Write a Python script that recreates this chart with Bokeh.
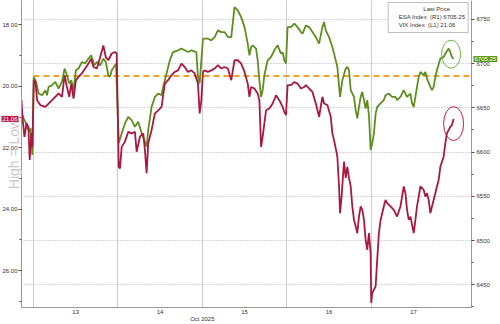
import math
from bokeh.plotting import figure
from bokeh.models import (Range1d, LinearAxis, SingleIntervalTicker, FixedTicker,
                          NumeralTickFormatter, Grid, Label, Legend, LegendItem)
from bokeh.embed import file_html
from bokeh.resources import INLINE

# ---------------- data (session-day time index: 0 = start of Oct 13 session) ----------------
es_t = [-0.141, -0.118, -0.094, -0.071, -0.047, -0.035, -0.024, -0.012,
        0.004, 0.032, 0.062, 0.103, 0.141, 0.161, 0.180, 0.220, 0.259, 0.298, 0.338, 0.369,
        0.397, 0.424, 0.448, 0.475, 0.503, 0.534, 0.574, 0.613, 0.652, 0.684, 0.722, 0.751,
        0.790, 0.828, 0.857, 0.887, 0.907, 0.927, 0.966, 0.978,
        1.010, 1.045, 1.084, 1.123, 1.163, 1.202, 1.241, 1.281, 1.320, 1.340, 1.359, 1.399,
        1.438, 1.477, 1.517, 1.536, 1.576, 1.615, 1.653, 1.712, 1.752, 1.791, 1.830, 1.870,
        1.929, 1.948, 1.968, 1.988,
        2.007, 2.066, 2.106, 2.145, 2.184, 2.224, 2.263, 2.302, 2.342, 2.381, 2.420, 2.460,
        2.499, 2.537, 2.557, 2.577, 2.596, 2.636, 2.655, 2.675, 2.695, 2.714, 2.734, 2.773,
        2.813, 2.852, 2.891, 2.931, 2.950, 2.970, 2.990,
        3.009, 3.049, 3.088, 3.127, 3.167, 3.186, 3.226, 3.264, 3.303, 3.343, 3.382, 3.421,
        3.441, 3.461, 3.500, 3.539, 3.559, 3.598, 3.630, 3.657, 3.697, 3.716, 3.736, 3.756,
        3.795, 3.815, 3.834, 3.854, 3.874, 3.893, 3.913, 3.933, 3.952, 3.972, 3.992,
        4.011, 4.031, 4.051, 4.070, 4.110, 4.148, 4.168, 4.207, 4.246, 4.286, 4.305, 4.345,
        4.384, 4.423, 4.463, 4.482, 4.502, 4.522, 4.541, 4.561, 4.581, 4.620, 4.640, 4.659,
        4.699, 4.718, 4.738, 4.758, 4.777, 4.817, 4.856, 4.876, 4.915, 4.935, 4.954, 4.974]
es_px = [6645.2, 6638.4, 6633.9, 6627.1, 6622.6, 6627.1, 6613.6, 6596.7,
         6685.0, 6679.3, 6666.2, 6664.3, 6670.0, 6664.3, 6673.7, 6675.6, 6679.3, 6671.9, 6679.3, 6694.4,
         6686.9, 6677.5, 6681.2, 6670.0, 6692.5, 6694.4, 6701.9, 6700.1, 6705.7, 6709.4, 6698.1, 6701.9,
         6698.1, 6705.7, 6701.9, 6686.9, 6685.0, 6692.5, 6698.1, 6700.1,
         6609.9, 6621.2, 6632.4, 6639.9, 6636.2, 6628.6, 6634.2, 6621.2, 6611.7, 6606.1, 6624.9, 6651.1,
         6662.4, 6666.2, 6664.3, 6673.7, 6688.8, 6703.8, 6713.1, 6715.1, 6717.0, 6715.1, 6713.1, 6715.1,
         6713.1, 6685.0, 6677.5, 6703.8,
         6728.2, 6728.2, 6726.3, 6730.0, 6737.6, 6735.7, 6735.7, 6730.0, 6730.0, 6763.9, 6760.1, 6752.6,
         6741.3, 6722.6, 6709.4, 6718.8, 6720.7, 6717.0, 6703.8, 6681.2, 6662.4, 6670.0, 6686.9, 6703.8,
         6707.5, 6715.1, 6720.7, 6711.3, 6713.1, 6703.8, 6700.1,
         6741.3, 6741.3, 6745.2, 6741.3, 6735.7, 6733.9, 6743.2, 6741.3, 6735.7, 6730.0, 6722.6, 6741.3,
         6747.0, 6737.6, 6730.0, 6718.8, 6711.3, 6696.2, 6662.4, 6681.2, 6694.4, 6696.2, 6692.5, 6670.0,
         6662.4, 6647.4, 6638.1, 6651.1, 6662.4, 6668.1, 6658.7, 6649.3, 6658.7, 6641.8, 6602.3,
         6609.9, 6621.2, 6643.7, 6651.1, 6655.0, 6658.7, 6664.3, 6666.2, 6662.4, 6662.4, 6658.7, 6662.4,
         6670.0, 6662.4, 6666.2, 6655.0, 6651.1, 6662.4, 6673.7, 6685.0, 6690.6, 6686.9, 6690.6, 6683.2,
         6673.7, 6670.0, 6673.7, 6685.0, 6692.5, 6705.7, 6707.5, 6711.3, 6717.0, 6713.1, 6707.5, 6705.25]

vix_t = [-0.141, -0.130, -0.106, -0.082, -0.059, -0.044, -0.024, -0.012,
         0.004, 0.024, 0.044, 0.082, 0.141, 0.180, 0.220, 0.259, 0.298, 0.338, 0.369, 0.397,
         0.424, 0.448, 0.475, 0.503, 0.534, 0.574, 0.613, 0.652, 0.684, 0.711, 0.751, 0.790,
         0.828, 0.857, 0.887, 0.927, 0.966, 0.986,
         1.010, 1.025, 1.045, 1.084, 1.123, 1.163, 1.202, 1.222, 1.261, 1.300, 1.320, 1.340,
         1.359, 1.399, 1.438, 1.477, 1.517, 1.536, 1.556, 1.594, 1.634, 1.673, 1.712, 1.752,
         1.791, 1.830, 1.870, 1.909, 1.948, 1.968, 1.988,
         2.007, 2.027, 2.066, 2.106, 2.145, 2.184, 2.224, 2.263, 2.302, 2.342, 2.361, 2.381,
         2.420, 2.460, 2.499, 2.537, 2.557, 2.577, 2.616, 2.655, 2.675, 2.695, 2.714, 2.754,
         2.793, 2.832, 2.872, 2.911, 2.950, 2.970, 2.990,
         3.009, 3.049, 3.088, 3.127, 3.167, 3.206, 3.226, 3.264, 3.303, 3.343, 3.382, 3.421,
         3.441, 3.480, 3.520, 3.539, 3.559, 3.598, 3.618, 3.630, 3.645, 3.677, 3.697, 3.716,
         3.736, 3.756, 3.775, 3.795, 3.815, 3.834, 3.854, 3.874, 3.893, 3.913, 3.933, 3.952,
         3.972, 3.992, 3.999,
         4.011, 4.031, 4.051, 4.070, 4.090, 4.110, 4.129, 4.148, 4.168, 4.188, 4.227, 4.266,
         4.305, 4.345, 4.384, 4.404, 4.423, 4.443, 4.463, 4.502, 4.522, 4.541, 4.561, 4.581,
         4.620, 4.640, 4.659, 4.679, 4.699, 4.718, 4.738, 4.758, 4.777, 4.797, 4.817, 4.856,
         4.876, 4.895, 4.935, 4.954, 4.974]
vix_px = [20.45, 21.00, 21.65, 21.20, 21.33, 22.40, 21.52, 21.98,
          19.80, 19.86, 20.45, 20.61, 20.67, 20.56, 20.45, 20.34, 20.23, 20.34, 19.64, 20.02,
          20.34, 19.91, 20.40, 19.80, 19.69, 19.58, 19.42, 19.26, 19.10, 19.37, 19.42, 19.05,
          18.67, 19.05, 19.15, 18.93, 18.88, 18.93,
          22.62, 22.67, 21.97, 21.80, 21.48, 21.53, 21.48, 22.13, 21.64, 21.53, 22.07, 22.83,
          21.86, 21.42, 20.88, 20.78, 20.67, 20.29, 19.91, 19.80, 19.64, 19.53, 19.48, 19.26,
          19.37, 19.53, 19.48, 19.58, 19.91, 20.88, 20.45,
          19.53, 19.48, 19.53, 19.48, 19.42, 19.31, 19.42, 19.37, 19.42, 19.80, 19.48, 19.15,
          19.15, 19.26, 19.53, 19.91, 20.34, 20.02, 20.07, 20.23, 20.45, 21.97, 21.64, 20.78,
          20.72, 20.56, 20.29, 20.45, 20.67, 20.83, 20.94,
          19.96, 19.96, 19.86, 19.91, 20.07, 20.02, 19.96, 20.07, 20.18, 20.56, 20.99, 20.34,
          20.56, 20.61, 20.99, 21.53, 21.75, 22.29, 23.26, 24.13, 23.70, 22.45, 22.98, 22.62,
          22.98, 23.26, 23.91, 24.35, 24.56, 24.78, 24.24, 23.91, 24.02, 24.35, 25.00, 25.32,
          24.78, 25.43, 27.05,
          26.73, 26.62, 26.51, 25.64, 24.78, 24.35, 24.13, 23.91, 23.70, 23.80, 23.91, 24.02,
          24.24, 23.91, 23.26, 23.48, 24.02, 24.35, 24.24, 24.78, 24.35, 23.91, 23.59, 23.26,
          23.37, 23.59, 23.48, 23.70, 24.13, 23.91, 23.70, 23.48, 23.26, 23.05, 22.62, 22.29,
          21.86, 21.53, 21.32, 21.26, 21.06]

day_pos = [0.5, 1.5, 2.5, 3.5, 4.5]
day_labels = ["13", "14", "15", "16", "17"]
session_starts = [0, 1, 2, 3, 4]
month_pos = 2.0
month_label = "Oct 2025"
es_prev_close = 6686.0
es_last = 6705.25
vix_last = 21.06

# ---------------- styling ----------------
FONT = "Liberation Sans"
GREEN = "#5e8e1f"
RED = "#a8183f"
ORANGE = "#f0a22a"
TXT = "#333333"
NBSP = "\u00a0"

X0, X1 = -0.141, 5.186
p = figure(width=500, height=324, output_backend="svg", toolbar_location=None,
           x_range=Range1d(X0, X1), y_range=Range1d(27.20, 17.205),
           min_border_left=21, min_border_right=27, min_border_top=0, min_border_bottom=16)
p.extra_y_ranges = {"es": Range1d(6424.3, 6771.4)}
p.background_fill_color = "white"
p.border_fill_color = "white"
p.outline_line_color = None
p.xgrid.visible = False
p.ygrid.visible = False

# left axis (VIX, inverted) with the "High = Low" note as its label
ya = p.yaxis[0]
ya.ticker = SingleIntervalTicker(interval=2, num_minor_ticks=2)
ya.formatter = NumeralTickFormatter(format="0.00")
ya.major_label_text_font = FONT
ya.major_label_text_font_size = "6px"
ya.major_label_text_color = TXT
ya.major_label_standoff = 1
ya.major_tick_in = 0
ya.major_tick_out = 3
ya.minor_tick_in = 0
ya.minor_tick_out = 2
ya.axis_line_color = "#999999"
ya.major_tick_line_color = "#555555"
ya.minor_tick_line_color = "#555555"
ya.axis_label = "High = Low"
ya.axis_label_text_font = FONT
ya.axis_label_text_font_size = "14px"
ya.axis_label_text_font_style = "normal"
ya.axis_label_text_color = "#c8c8c8"
ya.axis_label_standoff = -23

# right axis (ES); its blank label only compensates the room taken by the value tag
ra = LinearAxis(y_range_name="es", ticker=SingleIntervalTicker(interval=50, num_minor_ticks=2))
ra.major_label_text_font = FONT
ra.major_label_text_font_size = "6px"
ra.major_label_text_color = TXT
ra.major_label_standoff = 2
ra.major_tick_in = 0
ra.major_tick_out = 3
ra.minor_tick_in = 0
ra.minor_tick_out = 2
ra.axis_line_color = "#999999"
ra.major_tick_line_color = "#555555"
ra.minor_tick_line_color = "#555555"
ra.axis_label = NBSP
ra.axis_label_text_font_size = "1px"
ra.axis_label_standoff = -20
p.add_layout(ra, "right")

# bottom axis: day labels, plus the month under the 15th boundary
xa = p.xaxis[0]
xa.ticker = FixedTicker(ticks=day_pos + [month_pos])
overrides = {pos: lab for pos, lab in zip(day_pos, day_labels)}
overrides[month_pos] = "\n" + month_label
xa.major_label_overrides = overrides
xa.major_label_text_font = FONT
xa.major_label_text_font_size = "6px"
xa.major_label_text_color = TXT
xa.major_label_standoff = 1
xa.major_tick_in = 0
xa.major_tick_out = 0
xa.minor_tick_line_color = None
xa.axis_line_color = "#999999"
xa.axis_label = NBSP
xa.axis_label_text_font_size = "1px"
xa.axis_label_standoff = -10

# grids
p.add_layout(Grid(dimension=0, ticker=FixedTicker(ticks=session_starts),
                  grid_line_color="#cccccc", grid_line_width=1))
p.add_layout(Grid(dimension=1, y_range_name="es", ticker=SingleIntervalTicker(interval=50),
                  grid_line_color="#aaaaaa", grid_line_dash="1 2", grid_line_width=1))

# previous close dashed line
p.line(x=[session_starts[0], X1], y=[es_prev_close, es_prev_close], y_range_name="es",
       line_color=ORANGE, line_width=2, line_dash="6 4")

# series
p.line(x=es_t, y=es_px, y_range_name="es", line_color=GREEN, line_width=1.8)
p.line(x=vix_t, y=vix_px, line_color=RED, line_width=1.8)

# highlight ellipses around last values
g_y = sum(es_px[-4:]) / 4
r_y = sum(vix_px[-3:]) / 3
p.ellipse(x=[es_t[-1] - 0.03], y=[g_y], width=19, height=28, width_units="screen",
          height_units="screen", fill_color=None, line_color="#6db33f", line_width=1,
          y_range_name="es")
p.ellipse(x=[vix_t[-1]], y=[r_y], width=20, height=34, width_units="screen",
          height_units="screen", fill_color=None, line_color="#c41e3a", line_width=1)

# legend
sq_es = p.quad(left=[], right=[], top=[], bottom=[], fill_color=GREEN, line_color=GREEN)
sq_vix = p.quad(left=[], right=[], top=[], bottom=[], fill_color=RED, line_color=RED)
legend = Legend(items=[
    LegendItem(label=f"ESA Index  (R1) {es_last:.2f}", renderers=[sq_es]),
    LegendItem(label=f"VIX Index  (L1) {vix_last:.2f}", renderers=[sq_vix]),
], location="top_right", title=NBSP * 19 + "Last Price")
legend.title_text_font = FONT
legend.title_text_font_size = "6px"
legend.title_text_font_style = "normal"
legend.title_text_color = TXT
legend.title_standoff = 1
legend.label_text_font = FONT
legend.label_text_font_size = "6px"
legend.label_text_color = TXT
legend.label_height = 8
legend.label_standoff = 2
legend.glyph_width = 5
legend.glyph_height = 5
legend.spacing = 0
legend.padding = 3
legend.margin = 2
legend.border_line_color = "#7f7f7f"
legend.border_line_width = 1
legend.background_fill_alpha = 1
p.add_layout(legend)

# last-value tags next to the axes (in side panels, so they are not clipped)
p.add_layout(Label(x=X0, y=vix_last, text=f"{vix_last:.2f}", x_offset=-3,
                   text_align="right", text_baseline="middle",
                   text_font=FONT, text_font_size="6px", text_color="white",
                   background_fill_color="#b5173e", padding=1), "below")
p.add_layout(Label(x=X1, y=es_last, y_range_name="es", text=f"{es_last:.2f}", x_offset=2,
                   text_align="left", text_baseline="middle",
                   text_font=FONT, text_font_size="6px", text_color="white",
                   background_fill_color="#5e9a1a", padding=1), "right")

open("out.html", "w").write(file_html(p, INLINE))
